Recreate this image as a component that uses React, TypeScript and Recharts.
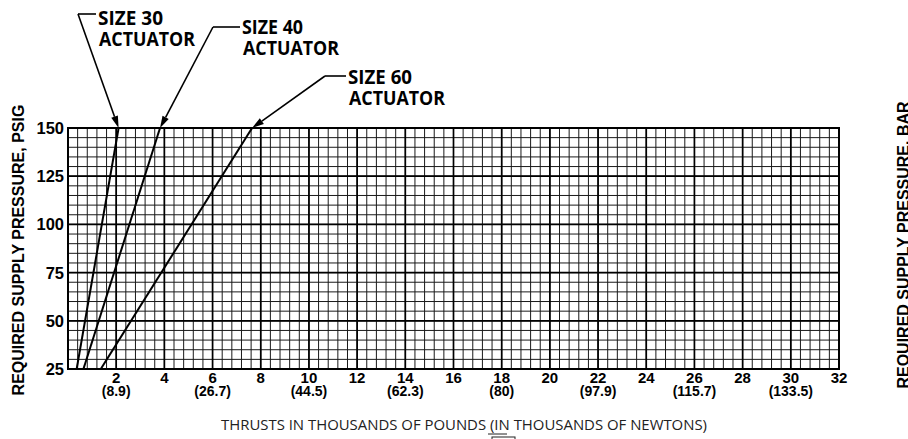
import React from 'react';
import { ComposedChart, Line, XAxis, YAxis, CartesianGrid, Customized, ReferenceLine } from 'recharts';

// ---- data ----
const size30 = [
  { x: 0.36, y: 25 },
  { x: 2.1, y: 150 },
];
const size40 = [
  { x: 0.64, y: 25 },
  { x: 3.82, y: 150 },
];
const size60 = [
  { x: 1.36, y: 25 },
  { x: 7.64, y: 150 },
];

const thrustTicks = [2, 4, 6, 8, 10, 12, 14, 16, 18, 20, 22, 24, 26, 28, 30, 32];
const newtonTicks = [2, 6, 10, 14, 18, 22, 26, 30];
const newtonLabels = ['(8.9)', '(26.7)', '(44.5)', '(62.3)', '(80)', '(97.9)', '(115.7)', '(133.5)'];
const psiTicks = [25, 50, 75, 100, 125, 150];
const barLabels = ['1.7', '3.4', '5.2', '6.9', '8.6', '10.4'];

// grid positions (chart paper)
const xMinor = Array.from({ length: 81 }, (_, i) => (i * 4) / 10);
const xMajor = [2, 4, 6, 8, 10, 12, 14, 16, 18, 20, 22, 24, 26, 28, 30];
const yMajor = [50, 75, 100, 125];
const yMinor = Array.from({ length: 26 }, (_, i) => 25 + i * 5);

// ---- layout ----
const W = 908;
const H = 439;
const M = { top: 128, right: 9, bottom: 30, left: 8 };
const YW = 60;
const XH = 40;
const PL = M.left + YW;
const PR = W - M.right - YW;
const PT = M.top;
const PB = H - M.bottom - XH;
const px = (v: number) => PL + (v / 32) * (PR - PL);
const py = (v: number) => PB - ((v - 25) / 125) * (PB - PT);

const TICK_FONT = '"Liberation Sans", Arial, Helvetica, sans-serif';
const NOTE_FONT = '"Open Sans", "Liberation Sans", sans-serif';

const XTick = (props: any) => {
  const { x, y, payload } = props;
  const v = payload.value;
  if (!thrustTicks.includes(v)) return <g />;
  const ni = newtonTicks.indexOf(v);
  return (
    <g>
      <text x={x} y={y + 13.5} textAnchor="middle" fontFamily={TICK_FONT} fontWeight="bold" fontSize={15} fill="#000">
        {v}
      </text>
      {ni >= 0 && (
        <text x={x} y={y + 27} textAnchor="middle" fontFamily={TICK_FONT} fontWeight="bold" fontSize={14} fill="#000">
          {newtonLabels[ni]}
        </text>
      )}
    </g>
  );
};

const LeftTick = (props: any) => {
  const { x, y, payload } = props;
  const v = payload.value;
  if (!psiTicks.includes(v)) return <g />;
  return (
    <text x={x} y={y} dy="0.36em" textAnchor="end" fontFamily={TICK_FONT} fontWeight="bold" fontSize={16.5} fill="#000">
      {v}
    </text>
  );
};

const RightTick = (props: any) => {
  const { x, y, payload } = props;
  const i = psiTicks.indexOf(payload.value);
  if (i < 0) return <g />;
  return (
    <text x={x} y={y} dy="0.36em" textAnchor="start" fontFamily={TICK_FONT} fontWeight="bold" fontSize={16.5} fill="#000">
      {barLabels[i]}
    </text>
  );
};

const Arrow = ({ x1, y1, x2, y2 }: { x1: number; y1: number; x2: number; y2: number }) => {
  const dx = x2 - x1;
  const dy = y2 - y1;
  const len = Math.sqrt(dx * dx + dy * dy);
  const ux = dx / len;
  const uy = dy / len;
  const L = 12;
  const Wd = 3.5;
  const bx = x2 - ux * L;
  const by = y2 - uy * L;
  const pts = `${x2},${y2} ${bx - uy * Wd},${by + ux * Wd} ${bx + uy * Wd},${by - ux * Wd}`;
  return (
    <g>
      <line x1={x1} y1={y1} x2={bx} y2={by} stroke="#000" strokeWidth={1.6} />
      <polygon points={pts} fill="#000" />
    </g>
  );
};

const Notes = () => {
  const labels = [
    { name: 'SIZE 30', tip: size30[1], lx: 78, ly: 14, tx: 98, sy: 25, ay: 46, sw: 65 },
    { name: 'SIZE 40', tip: size40[1], lx: 213, ly: 27, tx: 242, sy: 34, ay: 55, sw: 61 },
    { name: 'SIZE 60', tip: size60[1], lx: 325, ly: 76, tx: 348, sy: 84, ay: 105, sw: 64 },
  ];
  return (
    <g>
      {labels.map((l) => (
        <g key={l.name}>
          <line x1={l.lx} y1={l.ly} x2={l.tx - 2} y2={l.ly} stroke="#000" strokeWidth={1.6} />
          <Arrow x1={l.lx} y1={l.ly} x2={px(l.tip.x)} y2={py(l.tip.y)} />
          <text x={l.tx} y={l.sy} fontFamily={NOTE_FONT} fontWeight="bold" fontSize={19} fill="#000" textLength={l.sw} lengthAdjust="spacingAndGlyphs">
            {l.name}
          </text>
          <text x={l.tx + 1} y={l.ay} fontFamily={NOTE_FONT} fontWeight="bold" fontSize={19} fill="#000" textLength={96} lengthAdjust="spacingAndGlyphs">
            ACTUATOR
          </text>
        </g>
      ))}
      <rect x={PL} y={PT} width={PR - PL} height={PB - PT} fill="none" stroke="#000" strokeWidth={2} />
      <text
        transform="translate(24,250) rotate(-90)"
        textAnchor="middle"
        fontFamily={TICK_FONT}
        fontWeight="bold"
        fontSize={16}
        fill="#000"
      >
        REQUIRED SUPPLY PRESSURE, PSIG
      </text>
      <text
        transform="translate(909,245) rotate(-90)"
        textAnchor="middle"
        fontFamily={TICK_FONT}
        fontWeight="bold"
        fontSize={16}
        fill="#000"
      >
        REQUIRED SUPPLY PRESSURE, BAR
      </text>
      <text x={221} y={430} fontFamily={NOTE_FONT} fontSize={15} fill="#222" textLength={486} lengthAdjust="spacingAndGlyphs">
        THRUSTS IN THOUSANDS OF POUNDS (IN THOUSANDS OF NEWTONS)
      </text>
      <line x1={488} y1={434} x2={507} y2={434} stroke="#222" strokeWidth={1} />
      <text x={222} y={450} fontFamily={NOTE_FONT} fontSize={15} fill="#333" textLength={255} lengthAdjust="spacingAndGlyphs">
        FOR ACTUATOR WITH POSITIONERS
      </text>
      <rect x={492} y={437} width={23} height={12} fill="none" stroke="#222" strokeWidth={1} />
    </g>
  );
};

export default function App() {
  return (
    <div style={{ position: 'absolute', left: 0, top: 0, width: W, height: H, background: '#fff' }}>
      <ComposedChart width={W} height={H} margin={M}>
        <XAxis
          xAxisId="main"
          type="number"
          dataKey="x"
          domain={[0, 32]}
          ticks={xMinor}
          interval={0}
          allowDataOverflow
          height={XH}
          axisLine={false}
          tickLine={false}
          tickSize={0}
          tickMargin={0}
          tick={<XTick />}
        />
        <YAxis
          yAxisId="left"
          type="number"
          domain={[25, 150]}
          ticks={yMinor}
          interval={0}
          allowDataOverflow
          width={YW}
          axisLine={false}
          tickLine={false}
          tickSize={0}
          tickMargin={4}
          tick={<LeftTick />}
        />
        <YAxis
          yAxisId="right"
          orientation="right"
          type="number"
          domain={[25, 150]}
          ticks={psiTicks}
          interval={0}
          width={YW}
          axisLine={false}
          tickLine={false}
          tickSize={0}
          tickMargin={8}
          tick={<RightTick />}
        />
        <CartesianGrid xAxisId="main" yAxisId="left" stroke="#1a1a1a" strokeWidth={1} />
        {xMajor.map((v) => (
          <ReferenceLine key={'vx' + v} xAxisId="main" yAxisId="left" x={v} stroke="#000" strokeWidth={1.7} />
        ))}
        {yMajor.map((v) => (
          <ReferenceLine key={'hy' + v} xAxisId="main" yAxisId="left" y={v} stroke="#000" strokeWidth={1.7} />
        ))}
        <Line xAxisId="main" yAxisId="left" data={size30} dataKey="y" stroke="#000" strokeWidth={2} dot={false} isAnimationActive={false} />
        <Line xAxisId="main" yAxisId="left" data={size40} dataKey="y" stroke="#000" strokeWidth={2} dot={false} isAnimationActive={false} />
        <Line xAxisId="main" yAxisId="left" data={size60} dataKey="y" stroke="#000" strokeWidth={2} dot={false} isAnimationActive={false} />
        <Customized component={<Notes />} />
      </ComposedChart>
    </div>
  );
}
